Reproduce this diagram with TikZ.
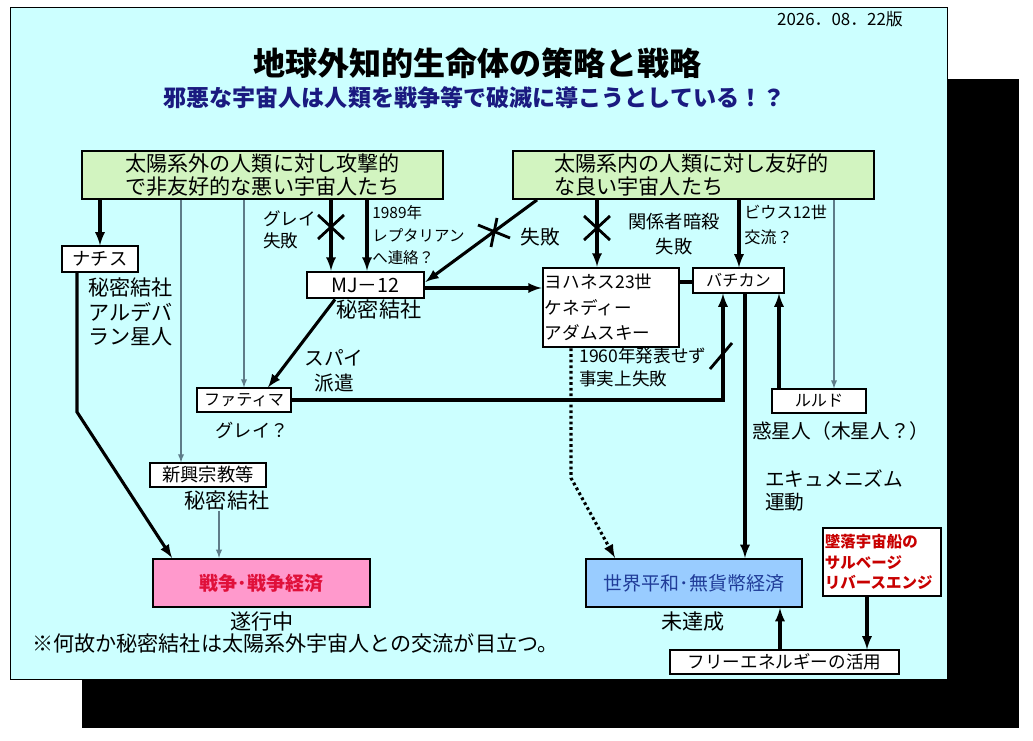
\documentclass[tikz,border=0pt]{standalone}
\usepackage{fontspec}
\setmainfont{Noto Sans CJK JP}
\usetikzlibrary{arrows}

\definecolor{panel}{HTML}{CCFFFF}
\definecolor{leaf}{HTML}{D2F4C0}
\definecolor{rose}{HTML}{FF99CC}
\definecolor{sky}{HTML}{99CCFF}
\definecolor{subblue}{HTML}{1A1A80}
\definecolor{linegray}{HTML}{5E7C88}
\definecolor{warred}{HTML}{E0103A}
\definecolor{wreckred}{HTML}{C80000}
\definecolor{peaceblue}{HTML}{203C98}
\newcommand{\fsz}[2]{\fontsize{#1pt}{#2pt}\selectfont}

\begin{document}
\begin{tikzpicture}[>=latex,x=0.025cm,y=-0.025cm,
	box/.style={draw,fill=white,line width=0.8pt,inner sep=1pt},
	heavybox/.style={box,line width=2pt},
	strong/.style={->,line width=2.2pt},
	faint/.style={->,line width=1pt,draw=linegray},
	cut/.style={line width=2pt},
	lbl/.style={inner sep=0pt}]

\useasboundingbox (0,0) rectangle (1033,741);

% shadow and sheet
\fill[black] (82,79) rectangle (1019,728);
\filldraw[fill=panel,line width=0.7pt] (10,7) rectangle (947,679);

% headings
\node[lbl,font=\fsz{12}{14}] (date) at (840,19) {2026．08．22版};
\node[lbl,font=\fsz{22.8}{26}\bfseries] (title) at (477.5,63) {地球外知的生命体の策略と戦略};
\node[lbl,text=subblue,font=\fsz{16.4}{19}\bfseries] (sub) at (474.5,98) {邪悪な宇宙人は人類を戦争等で破滅に導こうとしている！？};

% boxes
\node[box,fill=leaf,line width=1.3pt,minimum width=9.025cm,minimum height=1.2cm,align=center,font=\fsz{15}{16.3}] (bad) at (262.5,175) {太陽系外の人類に対し攻撃的\\で非友好的な悪い宇宙人たち};
\node[box,fill=leaf,line width=1.3pt,minimum width=9.025cm,minimum height=1.2cm,text width=6.95cm,align=left,font=\fsz{15}{16.3}] (good) at (693.5,175) {太陽系内の人類に対し友好的\\な良い宇宙人たち};
\node[box,minimum width=1.9cm,minimum height=0.65cm,font=\fsz{13}{15}] (nazi) at (100,259) {ナチス};
\node[box,minimum width=2.9cm,minimum height=0.6cm,font=\fsz{13}{15}] (shinkou) at (208,475) {新興宗教等};
\node[box,minimum width=2.35cm,minimum height=0.6cm,font=\fsz{11.5}{14}] (fatima) at (244,400) {ファティマ};
\node[heavybox,minimum width=2.925cm,minimum height=0.65cm,font=\fsz{14}{16}] (mj) at (365.5,285) {MJ－12};
\node[heavybox,minimum width=3.4cm,minimum height=1.975cm,text width=3.3cm,align=left,font=\fsz{12.5}{18}] (john) at (611,307.5) {ヨハネス23世\\ケネディー\\アダムスキー};
\node[box,minimum width=2.275cm,minimum height=0.625cm,font=\fsz{11.5}{14}] (vatican) at (738.5,280.5) {バチカン};
\node[box,minimum width=2.35cm,minimum height=0.6cm,font=\fsz{11.5}{14}] (lourdes) at (819,401) {ルルド};
\node[box,fill=rose,line width=1.6pt,minimum width=5.425cm,minimum height=1.2cm,text=warred,font=\fsz{13.5}{16}\bfseries] (war) at (261.5,583) {戦争･戦争経済};
\node[box,fill=sky,line width=1.6pt,minimum width=5.4cm,minimum height=1.2cm,text=peaceblue,font=\fsz{13.5}{16}] (peace) at (694,583) {世界平和･無貨幣経済};
\node[heavybox,text=wreckred,minimum width=2.95cm,minimum height=1.7cm,text width=2.85cm,align=left,font=\fsz{11}{14.5}\bfseries] (wreck) at (882,562) {墜落宇宙船の\\サルベージ\\リバースエンジ};
\node[box,minimum width=5.725cm,minimum height=0.6cm,font=\fsz{12.5}{15}] (free) at (784.5,662) {フリーエネルギーの活用};

% labels
\node[lbl,anchor=west,align=left,font=\fsz{12.5}{15.6}] (grayfail) at (263,230) {グレイ\\失敗};
\node[lbl,anchor=west,align=left,font=\fsz{11}{16}] (reptile) at (372,235.5) {1989年\\レプタリアン\\へ連絡？};
\node[lbl,font=\fsz{14}{16}] (fail) at (540,237) {失敗};
\node[lbl,align=center,font=\fsz{13}{17.7}] (assass) at (674,234.5) {関係者暗殺\\失敗};
\node[lbl,anchor=west,align=left,font=\fsz{11.5}{17.7}] (pius) at (744,224.5) {ビウス12世\\交流？};
\node[lbl,anchor=west,align=left,font=\fsz{15}{17.7}] (nazilbl) at (88,312) {秘密結社\\アルデバ\\ラン星人};
\node[lbl,font=\fsz{15}{17}] (mjlbl) at (379,310) {秘密結社};
\node[lbl,align=center,font=\fsz{14}{17.7}] (spy) at (334,370.5) {スパイ\\派遣};
\node[lbl,font=\fsz{13}{15}] (grayq) at (252,430) {グレイ？};
\node[lbl,font=\fsz{15}{17}] (shinlbl) at (227,501) {秘密結社};
\node[lbl,anchor=west,align=left,font=\fsz{12.5}{16.3}] (yr) at (579,367.5) {1960年発表せず\\事実上失敗};
\node[lbl,anchor=west,font=\fsz{14}{16}] (planet) at (752,431) {惑星人（木星人？）};
\node[lbl,anchor=west,align=left,font=\fsz{14}{16.3}] (ecum) at (765,490.5) {エキュメニズム\\運動};
\node[lbl,font=\fsz{15}{17}] (ongoing) at (262,622) {遂行中};
\node[lbl,font=\fsz{15}{17}] (unach) at (693,622) {未達成};
\node[lbl,anchor=west,font=\fsz{15}{17}] (note) at (32,643) {※何故か秘密結社は太陽系外宇宙人との交流が目立つ。};

% connectors
\draw[strong] (bad.south -| nazi) -- (nazi);
\draw[faint] (bad.south -| 181,0) -- (shinkou.north -| 181,0);
\draw[faint] (bad.south -| fatima) -- (fatima);
\draw[strong] (bad.south -| 331,0) -- (mj.north -| 331,0);
\draw[strong] (bad.south -| 367,0) -- (mj.north -| 367,0);
\draw[strong] (good.south -| 537,0) -- (mj.east |- 0,282);
\draw[strong] (mj.east |- 0,288) -- (john.west |- 0,288);
\draw[strong] (good.south -| 597,0) -- (john.north -| 597,0);
\draw[strong] (good.south -| 739,0) -- (vatican.north -| 739,0);
\draw[faint] (good.south -| 834,0) -- (lourdes.north -| 834,0);
\draw[line width=2.2pt] (john.east |- 0,282) -- (vatican.west |- 0,282);
\draw[strong] (lourdes.north -| 779,0) -- (vatican.south -| 779,0);
\draw[strong] (fatima.east) -- (fatima.east -| 723,0) -- (vatican.south -| 723,0);
\draw[strong] (vatican.south -| 745,0) -- (peace.north -| 745,0);
\draw[strong,dash pattern=on 2pt off 2pt] (john.south -| 571,0) -- (571,478) -- (peace.north -| 615,0);
\draw[strong] (mj.south -| 335,0) -- (fatima.north -| 268,0);
\draw[strong] (nazi.south -| 77,0) -- (77,412) -- (war.north -| 172,0);
\draw[faint] (shinlbl.south -| 219,0) -- (war.north -| 219,0);
\draw[strong] (wreck.south -| 867,0) -- (free.north -| 867,0);
\draw[strong] (free.north -| 780,0) -- (peace.south -| 780,0);

% failure marks
\draw[cut] (331,227) +(-13,-12) -- +(13,12) +(-13,12) -- +(13,-12);
\draw[cut] (478,225) -- (510,238) (497,218) -- (491,247);
\draw[cut] (597,228) +(-13,-12) -- +(13,12) +(-13,12) -- +(13,-12);
\draw[cut] (710,369) -- (732,343);

\end{tikzpicture}
\end{document}
